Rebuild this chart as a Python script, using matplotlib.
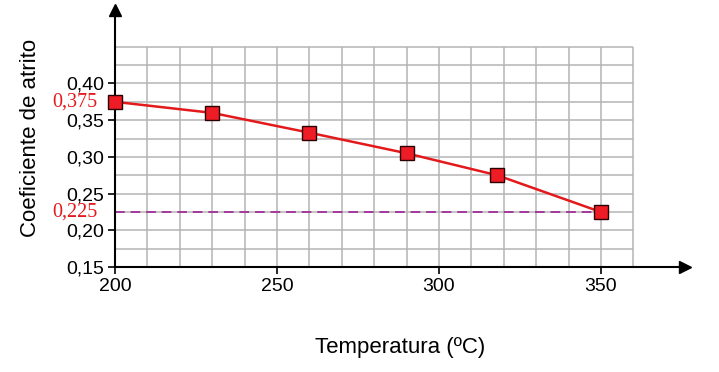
import numpy as np
import matplotlib
matplotlib.use("Agg")
import matplotlib.pyplot as plt

# data
temperatura = [200, 230, 260, 290, 318, 350]
coeficiente = [0.375, 0.360, 0.333, 0.305, 0.275, 0.225]
yticks = [0.15, 0.20, 0.25, 0.30, 0.35, 0.40]
xticks = [200, 250, 300, 350]
ref_valores = [0.375, 0.225]

plt.rcParams['font.family'] = ['Liberation Sans', 'DejaVu Sans']

fig = plt.figure(figsize=(7.19, 3.72), dpi=100)
ax = fig.add_axes([0.16, 0.282, 0.793, 0.691])
ax.set_xlim(200, 376)
ax.set_ylim(0.15, 0.50)

# grid, limited to the drawn area
grid_x = np.arange(210, 361, 10)
grid_y = np.arange(0.175, 0.451, 0.025)
ax.vlines(grid_x, 0.15, 0.45, color="#b4b4b4", lw=1.1, zorder=1)
ax.hlines(grid_y, 200, 360, color="#b4b4b4", lw=1.1, zorder=1)

# dashed reference line
ax.plot([200, 350], [ref_valores[1], ref_valores[1]], color="#a33a9a",
        lw=1.4, ls=(0, (5, 3)), zorder=2)

ax.plot(temperatura, coeficiente, color="#e3191c", lw=1.8, zorder=3)
ax.plot(temperatura, coeficiente, ls="none", marker="s", ms=10,
        mfc="#ee1c24", mec="#2a0000", mew=1.0, zorder=4, clip_on=False)

for s in ["top", "right"]:
    ax.spines[s].set_visible(False)
ax.spines["left"].set_linewidth(1.5)
ax.spines["bottom"].set_linewidth(1.5)

# arrow heads
ax.plot(1, 0, ">k", ms=8, transform=ax.transAxes, clip_on=False)
ax.plot(0, 1, "^k", ms=8, transform=ax.transAxes, clip_on=False)

ax.set_xticks(xticks)
ax.set_xticklabels([str(t) for t in xticks])
ax.set_yticks(yticks)
ax.set_yticklabels([f"{v:.2f}".replace(".", ",") for v in yticks])
ax.tick_params(labelsize=14, length=5, width=1.2, pad=3)

for v in ref_valores:
    ax.text(194.6, v, f"{v:.3f}".replace(".", ","), color="#e3191c",
            family="Liberation Serif", fontsize=14.5, ha="right", va="center")

fig.text(0.042, 0.628, "Coeficiente de atrito", fontsize=16, rotation=90,
         ha="center", va="center")
fig.text(0.556, 0.067, "Temperatura (ºC)", fontsize=16, ha="center", va="center")

fig.savefig("out.png", dpi=100)
